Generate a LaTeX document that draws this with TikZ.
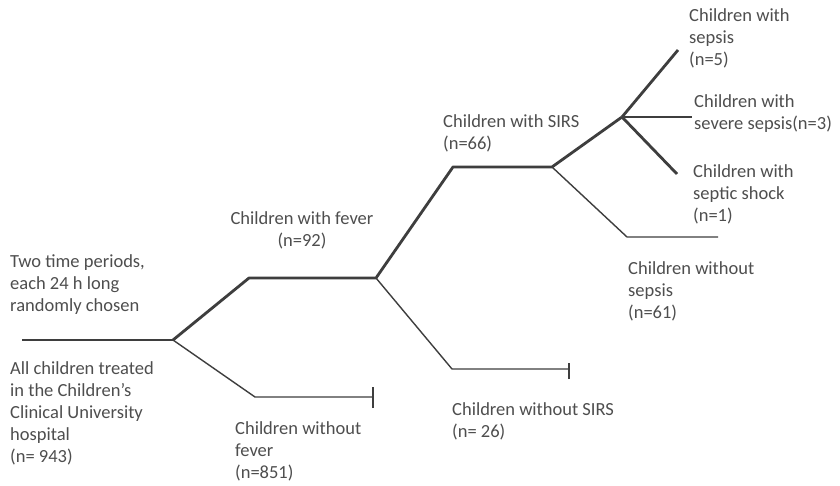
\documentclass[tikz,border=0pt]{standalone}
\usepackage{fontspec}
\setmainfont{Carlito}
\definecolor{txtgray}{RGB}{78,78,78}
\definecolor{lngray}{RGB}{62,62,62}
\begin{document}
\begin{tikzpicture}[x=1pt,y=-1pt,
  lbl/.style={anchor=base west, inner sep=0pt, align=left, text=txtgray, font=\fontsize{18.5}{22}\selectfont},
  posline/.style={draw=lngray, line width=2.8pt, line join=round},
  startline/.style={draw=lngray, line width=2.2pt},
  negline/.style={draw=lngray, line width=1.4pt, line join=round},
]
\useasboundingbox[fill=white] (0,0) rectangle (840,486);
% junctions and corners
\coordinate (s) at (22,340);
\coordinate (j1) at (173,340);
\coordinate (f1) at (249,278);
\coordinate (j2) at (376,278);
\coordinate (nf1) at (255,397);
\coordinate (nfe) at (373,397);
\coordinate (s1) at (453,167);
\coordinate (j3) at (552,167);
\coordinate (ns1) at (452,369);
\coordinate (nse) at (569,369);
\coordinate (j4) at (622,117);
\coordinate (sep) at (678,50);
\coordinate (sev) at (692,117);
\coordinate (sho) at (677,174);
\coordinate (nsp1) at (627,237);
\coordinate (nspe) at (718,237);
% positive path
\draw[startline] (s) -- (j1);
\draw[posline] (j1) -- (f1) -- (j2) -- (s1) -- (j3) -- (j4);
\draw[posline] (j4) -- (sep);
\draw[posline] (j4) -- (sev);
\draw[posline] (j4) -- (sho);
% negative branches
\draw[negline] (j1) -- (nf1) -- (nfe);
\draw[negline] ([yshift=-11pt]nfe) -- ([yshift=10pt]nfe);
\draw[negline] (j2) -- (ns1) -- (nse);
\draw[negline] ([yshift=-10pt]nse) -- ([yshift=6pt]nse);
\draw[negline] (j3) -- (nsp1) -- (nspe);
% labels (anchor = baseline of the last line)
\node[lbl] (two) at (10,311) {Two time periods,\\each 24 h long\\randomly chosen};
\node[lbl] (all) at (10,462) {All children treated\\in the Children’s\\Clinical University\\hospital\\(n= 943)};
\node[lbl, anchor=base, align=center] (fev) at (302,247) {Children with fever\\(n=92)};
\node[lbl] (nfev) at (235,478) {Children without\\fever\\(n=851)};
\node[lbl] (sirs) at (443,150) {Children with SIRS\\(n=66)};
\node[lbl] (nsirs) at (452,437) {Children without SIRS\\(n= 26)};
\node[lbl] (sepsis) at (689,66) {Children with\\sepsis\\(n=5)};
\node[lbl] (severe) at (694,130) {Children with\\severe sepsis(n=3)};
\node[lbl] (shock) at (693,222) {Children with\\septic shock\\(n=1)};
\node[lbl] (nsepsis) at (628,318) {Children without\\sepsis\\(n=61)};
\end{tikzpicture}
\end{document}
